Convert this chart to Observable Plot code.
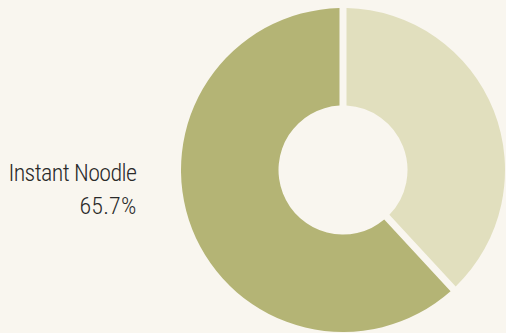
<!DOCTYPE html>
<html><head><meta charset="utf-8">
<script src="https://cdn.jsdelivr.net/npm/d3@7"></script>
<script src="https://cdn.jsdelivr.net/npm/@observablehq/plot@0.6"></script>
<style>
html,body{margin:0;padding:0;background:#f9f6ef;}
#chart{width:506px;height:333px;overflow:hidden}
#chart text tspan{letter-spacing:-0.6px}
#chart text tspan:last-child{letter-spacing:0.2px}
</style></head><body><div id="chart"></div>
<script>
// data
const categories = ["Other", "Instant Noodle"];
const shares = [38.1, 61.9];
const labelLines = ["Instant Noodle", "65.7%"];
const colors = ["#e1dfbe", "#b4b475"];

// layout (px)
const W = 506, H = 333, CX = 343, CY = 170, R_OUT = 162, R_IN = 64.5;

const slices = categories.map((c, i) => ({category: c, share: shares[i]}));

function donut(index, scales, values) {
  const g = d3.create("svg:g");
  const ids = Array.from(index);
  const pieData = d3.pie().sort(null).value(i => slices[i].share)(ids);
  const rOut = scales.x(CX + R_OUT) - scales.x(CX);
  const rIn = scales.x(CX + R_IN) - scales.x(CX);
  const arc = d3.arc().innerRadius(rIn).outerRadius(rOut).padAngle(0.07).padRadius(100);
  g.selectAll("path").data(pieData).join("path")
    .attr("transform", d => `translate(${values.x[d.data]},${values.y[d.data]})`)
    .attr("d", arc)
    .attr("fill", d => values.fill[d.data]);
  return g.node();
}

const chart = Plot.plot({
  width: W, height: H,
  margin: 0,
  x: {domain: [0, W], range: [0, W], axis: null},
  y: {domain: [0, H], range: [0, H], axis: null},
  color: {domain: categories, range: colors},
  style: {background: "#f9f6ef"},
  marks: [
    Plot.dot(slices, {x: () => CX, y: () => CY, fill: "category", render: donut}),
    Plot.text([labelLines.join("\n")], {
      x: () => CX - R_OUT - 45, y: () => CY + 16,
      text: d => d, textAnchor: "end", lineAnchor: "middle", lineHeight: 1.375,
      fontSize: 24, fontWeight: 300, fill: "#2a2a2a",
      fontFamily: "'Liberation Sans Narrow', 'Roboto Condensed', 'DejaVu Sans Condensed', sans-serif"
    })
  ]
});
document.getElementById("chart").appendChild(chart);
</script></body></html>
